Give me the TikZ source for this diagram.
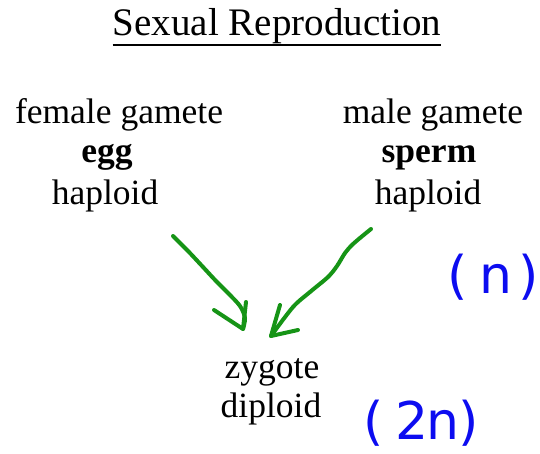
\documentclass[tikz,border=0pt]{standalone}
\usepackage{fontspec}
\setmainfont{Liberation Serif}
\newfontfamily\handfont{DejaVu Sans}
\definecolor{pengreen}{RGB}{22,148,22}
\definecolor{penblue}{RGB}{12,12,240}
\tikzset{
  txt/.style={anchor=base, inner sep=0pt, font=\fontsize{35.5}{42}\selectfont},
  ttl/.style={anchor=base, inner sep=0pt, font=\fontsize{39}{46}\selectfont},
  ink/.style={draw=pengreen, line width=4pt, line cap=round, line join=round},
  note/.style={inner sep=0pt, text=penblue, font=\handfont\fontsize{52}{60}\selectfont}
}
\begin{document}
\begin{tikzpicture}[x=1pt,y=-1pt]
  \useasboundingbox[fill=white] (0,0) rectangle (540,454);

  % heading
  \node[ttl] (title) at (277,36) {Sexual Reproduction};
  \draw[line width=1.6pt] ([yshift=-9pt]title.base west) -- ([yshift=-9pt]title.base east);

  % left parent
  \node[txt] (fem) at (119,124) {female gamete};
  \node[txt] (egg) at (107,163) {\bfseries egg};
  \node[txt] (hapL) at (105,205) {haploid};

  % right parent
  \node[txt] (mal) at (433,124) {male gamete};
  \node[txt] (sperm) at (429,163) {\bfseries sperm};
  \node[txt] (hapR) at (428,205) {haploid};

  % offspring
  \node[txt] (zyg) at (272,378) {zygote};
  \node[txt] (dip) at (271,417) {diploid};

  % chromosome-number notes
  \node[note, anchor=east] (n1) at (539,277) {(\hspace{12pt}n\hspace{6pt})};
  \node[note] (n2) at (421,423) {(\hspace{12pt}2\hspace{-2pt}n\hspace{-1pt})};

  % hand-drawn arrows
  \coordinate (eggOut) at (173,236);
  \coordinate (zygInL) at (243,329);
  \coordinate (spermOut) at (371,229);
  \coordinate (zygInR) at (271,336);

  \draw[ink] plot[smooth, tension=0.5] coordinates {(eggOut) (188,251) (203,267) (216,281) (228,293) (240,306) (245,318) (zygInL)};
  \draw[ink] (214,310) -- (zygInL) -- (246,302);

  \draw[ink] plot[smooth, tension=0.5] coordinates {(spermOut) (360,238) (352,245) (345,253) (337,266) (328,277) (310,292) (293,307) (zygInR)};
  \draw[ink] (280,305) -- (zygInR) -- (298,330);
\end{tikzpicture}
\end{document}
